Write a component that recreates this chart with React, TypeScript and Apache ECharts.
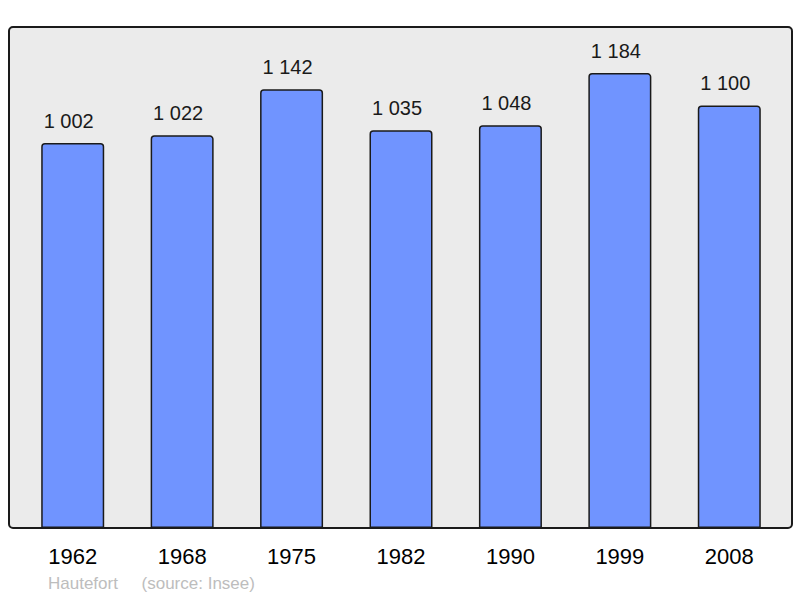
import React, { useEffect, useRef } from "react";
import * as echarts from "echarts";

const years = ["1962", "1968", "1975", "1982", "1990", "1999", "2008"];
const population = [1002, 1022, 1142, 1035, 1048, 1184, 1100];
const commune = "Hautefort";
const sourceText = "(source: Insee)";

const fmt = (v: number) => {
  const s = String(v);
  return s.replace(/\B(?=(\d{3})+(?!\d))/g, " ");
};

const FONT = "Liberation Sans, Arial, sans-serif";

export default function App() {
  const ref = useRef<HTMLDivElement>(null);
  useEffect(() => {
    const chart = echarts.init(ref.current!, undefined, { renderer: "svg" });
    chart.setOption({
      animation: false,
      backgroundColor: "#ffffff",
      textStyle: { fontFamily: FONT },
      graphic: [
        {
          type: "rect",
          z: -10,
          shape: { x: 9, y: 27, width: 783, height: 501, r: 4 },
          style: { fill: "#ebebeb", stroke: "#1a1a1a", lineWidth: 2 },
          silent: true,
        },
        {
          type: "text",
          left: 48,
          top: 575,
          style: {
            text: commune + "     " + sourceText,
            fill: "#bdbdbd",
            font: "17px " + FONT,
          },
        },
      ],
      grid: { left: 18, width: 766, top: 27, bottom: 70, containLabel: false },
      xAxis: {
        type: "category",
        data: years,
        axisLine: { show: false },
        axisTick: { show: false },
        axisLabel: {
          color: "#000000",
          fontSize: 22,
          margin: 17,
          fontFamily: FONT,
        },
      },
      yAxis: {
        type: "value",
        min: 0,
        max: 1304,
        show: false,
        splitLine: { show: false },
      },
      series: [
        {
          type: "bar",
          data: population,
          barWidth: 63,
          itemStyle: {
            color: "#7094ff",
            borderColor: "#1a1a1a",
            borderWidth: 1.5,
            borderRadius: [3, 3, 0, 0],
          },
          label: {
            show: true,
            position: "top",
            distance: 12,
            offset: [-4, 0],
            color: "#1a1a1a",
            fontSize: 20,
            fontFamily: FONT,
            formatter: (p: any) => fmt(p.value),
          },
        },
      ],
    });
    return () => chart.dispose();
  }, []);
  return <div ref={ref} style={{ width: 800, height: 598, position: "absolute", left: 0, top: 0 }} />;
}
